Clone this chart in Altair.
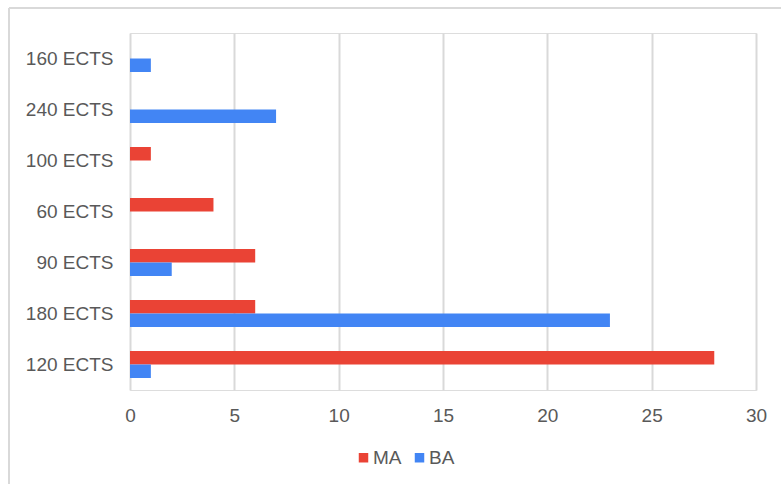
import altair as alt
import pandas as pd

categories = ["160 ECTS", "240 ECTS", "100 ECTS", "60 ECTS", "90 ECTS", "180 ECTS", "120 ECTS"]
ma_values = [0, 0, 1, 4, 6, 6, 28]
ba_values = [1, 7, 0, 0, 2, 23, 1]
series = ["MA", "BA"]
colors = ["#EA4335", "#4285F4"]

rows = []
for c, m, b in zip(categories, ma_values, ba_values):
    rows.append({"cat": c, "series": "MA", "value": m})
    rows.append({"cat": c, "series": "BA", "value": b})
df = pd.DataFrame(rows)

FONT = "Liberation Sans"
GRID = "#d9d9d9"
TEXT = "#595959"

bars = alt.Chart(df).mark_bar().encode(
    x=alt.X("value:Q", scale=alt.Scale(domain=[0, 30], nice=False),
            axis=alt.Axis(values=[0, 5, 10, 15, 20, 25, 30], title=None, domain=False,
                          ticks=False, grid=True, gridColor=GRID, gridWidth=2,
                          labelFontSize=19, labelColor=TEXT, labelFont=FONT,
                          labelFlush=False, labelPadding=16)),
    y=alt.Y("cat:N", sort=categories,
            scale=alt.Scale(paddingInner=0.47, paddingOuter=0.235),
            axis=alt.Axis(title=None, domain=False, ticks=False, labelFontSize=19,
                          labelColor=TEXT, labelFont=FONT, labelPadding=17)),
    yOffset=alt.YOffset("series:N", sort=series),
    color=alt.Color("series:N", sort=series,
                    scale=alt.Scale(domain=series, range=colors),
                    legend=alt.Legend(title=None, orient="none", legendX=224, legendY=415,
                                      direction="horizontal", symbolType="square",
                                      symbolSize=90, symbolStrokeWidth=0,
                                      labelFontSize=19, labelColor=TEXT, labelFont=FONT,
                                      labelOffset=0, columnPadding=8)),
)

one = alt.Data(values=[{"a": 1}])
top_border = alt.Chart(one).mark_rule(color=GRID, strokeWidth=2).encode(
    x=alt.value(-121), x2=alt.value(651), y=alt.value(-25))
left_border = alt.Chart(one).mark_rule(color=GRID, strokeWidth=2).encode(
    x=alt.value(-121), y=alt.value(-25), y2=alt.value(451))

chart = alt.layer(bars, top_border, left_border).properties(
    width=626, height=357,
    autosize=alt.AutoSizeParams(type="none"),
    padding={"left": 130, "top": 33, "right": 25, "bottom": 94},
).configure_view(stroke=None).configure(background="white")

chart.save("out.html", embed_options={"renderer": "svg", "actions": False})
